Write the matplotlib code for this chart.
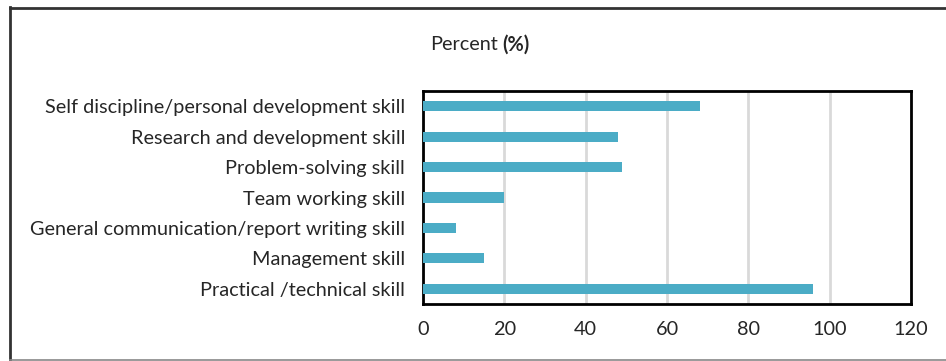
import matplotlib
matplotlib.use("Agg")
import matplotlib.pyplot as plt
from matplotlib.lines import Line2D

plt.rcParams["font.family"] = ["Lato", "DejaVu Sans"]

# data (top to bottom as shown)
skills = [
    "Self discipline/personal development skill",
    "Research and development skill",
    "Problem-solving skill",
    "Team working skill",
    "General communication/report writing skill",
    "Management skill",
    "Practical /technical skill",
]
percent = [68, 48, 49, 20, 8, 15, 96]
xticks = [0, 20, 40, 60, 80, 100, 120]

bar_color = "#4BACC6"
text_color = "#262626"
fs = 14.3

fig = plt.figure(figsize=(9.46, 3.61), dpi=100)
ax = fig.add_axes([423 / 946, 1 - 304 / 361, 488 / 946, 213 / 361])

ypos = list(range(len(skills)))[::-1]
ax.barh(ypos, percent, height=0.33, color=bar_color, zorder=3)

ax.set_xlim(0, 120)
ax.set_ylim(-0.5, len(skills) - 0.5)
ax.set_xticks(xticks)
ax.set_xticklabels([str(t) for t in xticks])
ax.set_yticks(ypos)
ax.set_yticklabels(skills)
ax.tick_params(axis="both", length=0, labelsize=fs, colors=text_color)
ax.tick_params(axis="y", pad=13)
ax.tick_params(axis="x", pad=12)
ax.grid(axis="x", color="#D9D9D9", linewidth=2, zorder=0)
for s in ax.spines.values():
    s.set_color("black")
    s.set_linewidth(2)

# title: "(%)" a bit heavier, like the original
fig.text(498 / 946, 1 - 45 / 361, "Percent", ha="right", va="center",
         fontsize=fs, color=text_color)
fig.text(502 / 946, 1 - 45 / 361, "(%)", ha="left", va="center",
         fontsize=fs, color=text_color, fontweight="bold")

# outer chart border
fig.add_artist(Line2D([10 / 946, 1], [1 - 7.5 / 361, 1 - 7.5 / 361],
                      transform=fig.transFigure, color="#333333", linewidth=2))
fig.add_artist(Line2D([10 / 946, 10 / 946], [0, 1 - 7 / 361],
                      transform=fig.transFigure, color="#333333", linewidth=2))
fig.add_artist(Line2D([10 / 946, 1], [1.5 / 361, 1.5 / 361],
                      transform=fig.transFigure, color="#888888", linewidth=1.2))

fig.savefig("out.png", dpi=100)
